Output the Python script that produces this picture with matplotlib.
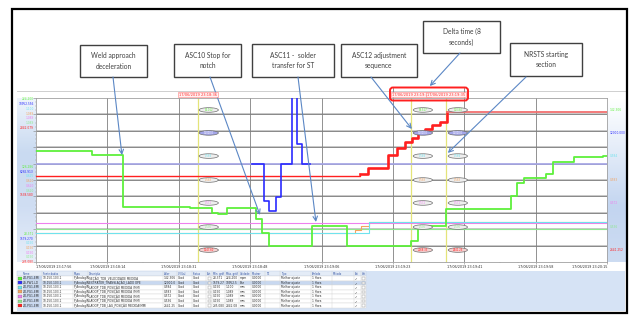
import numpy as np
import matplotlib.pyplot as plt
from matplotlib.patches import Rectangle, Ellipse, FancyBboxPatch
from matplotlib.colors import LinearSegmentedColormap
import matplotlib.transforms as mtransforms

W, H = 629, 316

# x axis: grid divisions of ~17.4 s, y axis: 10 divisions
tick_labels = ["17/06/2019 23:17:56", "17/06/2019 23:18:14", "17/06/2019 23:18:31",
               "17/06/2019 23:18:48", "17/06/2019 23:19:06", "17/06/2019 23:19:23",
               "17/06/2019 23:19:41", "17/06/2019 23:19:58", "17/06/2019 23:20:15"]

# speed trace (green, thick)
speed_x = [0, 0.784, 1.218, 2.157, 2.465, 2.549, 2.675, 3.081, 3.165, 3.263, 3.866, 4.356,
           5.252, 5.350, 5.742, 6.653, 6.737, 6.835, 7.143, 7.241, 7.535, 7.941, 8.0]
speed_y = [6.77, 6.52, 3.35, 3.29, 2.99, 2.93, 3.29, 2.62, 1.77, 0.98, 2.20, 0.98,
           1.28, 2.20, 3.23, 4.02, 4.82, 5.12, 5.37, 6.10, 6.40, 6.46, 6.46]

# extractor translation (blue)
ext_x = [3.025, 3.193, 3.263, 3.361, 3.431, 3.585, 3.655, 3.725, 3.838]
ext_y = [5.98, 3.72, 3.11, 3.96, 5.98, 10.6, 7.20, 5.98, 5.98]

# lag position (red)
lag_x = [0, 4.538, 4.650, 4.930, 5.056, 5.168, 5.266, 5.350, 5.448, 5.546, 5.658, 5.756, 8.0]
lag_y = [5.24, 5.37, 5.73, 6.52, 6.95, 7.32, 7.56, 7.87, 8.11, 8.35, 8.54, 9.15, 9.15]

# position traces (thin)
orange_x = [0, 4.468, 4.552, 4.664, 8.0]
orange_y = [1.77, 1.95, 2.20, 2.44, 2.44]
cyan_x = [0, 4.664, 8.0]
cyan_y = [1.77, 2.44, 2.44]
magenta_x = [0, 8.0]
magenta_y = [2.38, 2.38]
green2_x = [0, 8.0]
green2_y = [2.0, 2.0]
lavender_x = [0, 8.0]
lavender_y = [5.98, 5.98]

trace_colors = ["#5ef03c", "#2b2bff", "#6fe3ee", "#f4a460", "#ee80ee", "#8fe88f", "#ff2020"]

# cursors
cursor_x = [2.269, 5.252, 5.742]
cursor_times = ["17/06/2019 23:18:36", "17/06/2019 23:19:26", "17/06/2019 23:19:35"]
ellipse_x = [2.42, 5.42, 5.91]
ellipse_y = [9.27, 7.87, 6.46, 5.0, 3.6, 2.13, 0.73]
cursor_values = [["94.012", "12000.0", "0.584", "0.583", "0.572", "0.536", "1247.60"],
                 ["89.517", "12000.0", "0.584", "0.583", "0.572", "0.536", "2168.33"],
                 ["110.84", "12000.0", "0.584", "0.583", "0.572", "0.536", "2641.25"]]

# scale labels
max_labels = ["224.200", "10952.556", "1.100", "1.089", "1.089", "1.089", "2842.079"]
mid_labels = ["126.286", "6265.913", "0.625", "0.620", "0.620", "0.620", "1538.580"]
min_labels = ["28.371", "1579.270", "0.150", "0.150", "0.150", "0.150", "235.080"]
right_labels = ["142.306", "12000.000", "0.584", "0.583", "0.572", "0.536", "2641.252"]

# table
headers = ["Nome", "Fonte dados", "Mapa", "Descrição", "Valor", "Vl Ual", "Status", "Aut",
           "Mín. gráf", "Máx. gráf", "Unidade", "Mostrar", "TZ", "Tipo", "Período",
           "Método", "Exi", "Vet"]
col_x = [22, 42, 73, 88, 163, 177, 192, 206, 212, 225, 239, 251, 265, 280, 311, 332, 354, 361]
names = ["ZD-PG1-EMI", "ZS-PW1-LD", "ZD-PG1-EMI", "ZD-PG1-EMI", "ZD-PG1-EMI", "ZD-PG1-EMI", "ZD-PG1-EMI"]
descs = ["SEÇÃO_TDB_VELOCIDADE MEDIDA", "EXTRATOR_TRANSLAÇÃO_LADO OPE",
         "LADOP_TDB_POSIÇÃO MEDIDA (MM)", "LADOP_TDB_POSIÇÃO MEDIDA (MM)",
         "LADOP_TDB_POSIÇÃO MEDIDA (MM)", "LADOP_TDB_POSIÇÃO MEDIDA (MM)",
         "LADOP_TDB_LAG_POSIÇÃO MEDIDA(MM)"]
valores = ["142.306", "12000.0", "0.584", "0.583", "0.572", "0.536", "2641.25"]
mins = ["28.371", "1579.27", "0.150", "0.150", "0.150", "0.150", "235.080"]
maxs = ["224.200", "10952.5", "1.100", "1.089", "1.089", "1.089", "2842.08"]
units = ["mpm", "Bar", "mm", "mm", "mm", "mm", "mm"]

fig = plt.figure(figsize=(W / 100, H / 100), dpi=100)

# background overlay in pixel coordinates
ov = fig.add_axes([0, 0, 1, 1], zorder=0)
ov.axis('off')

left_cmap = LinearSegmentedColormap.from_list('l', ['#eef4fb', '#c9daf1', '#d0def3', '#e6eef9'])
right_cmap = LinearSegmentedColormap.from_list('r', ['#ffffff', '#e2ebf8', '#c3d5f0', '#cddcf2'])
grad = np.linspace(0, 1, 100)[:, None]
ov.imshow(grad, extent=(17, 36, 262, 98), cmap=left_cmap, aspect='auto')
ov.imshow(grad, extent=(607, 626, 262, 98), cmap=right_cmap, aspect='auto')
ov.set_xlim(0, W)
ov.set_ylim(H, 0)

ov.plot([17, 626], [91, 91], color='#c8c8c8', lw=0.6)
ov.plot([626, 626], [91, 271], color='#c8c8c8', lw=0.6)
ov.add_patch(Rectangle((12, 9), 615, 304, fill=False, ec='black', lw=1.6, zorder=10))

# annotation boxes
boxes = [((80, 45, 67, 32), "Weld approach\ndeceleration"),
         ((174, 44, 67, 33), "ASC10 Stop for\nnotch"),
         ((252, 44, 82, 33), "ASC11 -  solder\ntransfer for ST"),
         ((341, 44, 76, 33), "ASC12 adjustment\nsequence"),
         ((423, 21, 77, 32), "Delta time (8\nseconds)"),
         ((510, 43, 72, 33), "NRSTS starting\nsection")]
for (bx, by, bw, bh), txt in boxes:
    ov.add_patch(Rectangle((bx, by), bw, bh, fc='white', ec='#404040', lw=1.0))
    ov.text(bx + bw / 2, by + bh / 2, txt, ha='center', va='center', fontsize=4.8,
            family='Lato', color='#404040', linespacing=1.6)

# table
ov.add_patch(Rectangle((17, 271), 608, 40, fc='#d6e3f5', ec='none'))
ov.add_patch(Rectangle((17, 271), 349, 5, fc='#e4ecf7', ec='#b8c8e0', lw=0.3))
for j, h in enumerate(headers):
    ov.text(col_x[j] + 0.8, 273.6, h, fontsize=1.8, color='#3050a0', va='center')
row_h = 4.55
for i in range(7):
    ry = 276 + i * row_h
    fc = '#c8d8f0' if i == 1 else 'white'
    ov.add_patch(Rectangle((17, ry), 349, row_h, fc=fc, ec='#d8d8d8', lw=0.3))
    ov.add_patch(Rectangle((18, ry + 0.8), 4, row_h - 1.6, fc=trace_colors[i], ec='#606060', lw=0.2))
    ov.add_patch(Rectangle((23, ry), 19, row_h, fc='#c8d8f0', ec='none'))
    cells = [names[i], "10.150.103.1", "P_AnalogIN", descs[i], valores[i], "Good", "Good", "",
             mins[i], maxs[i], units[i], "0.0000", "", "Melhor ajuste", "1 Hora", "", "✓", ""]
    for j, c in enumerate(cells):
        if c:
            ov.text(col_x[j] + 0.8, ry + row_h / 2, c, fontsize=2.1, color='#303030', va='center')
    ov.add_patch(Rectangle((207.5, ry + 1), 3, 2.6, fc='white', ec='#909090', lw=0.3))
    ov.add_patch(Rectangle((362, ry + 1), 3, 2.6, fc='white', ec='#909090', lw=0.3))
for xc in col_x[1:]:
    ov.plot([xc, xc], [271, 276 + 7 * row_h], color='#d0d0d0', lw=0.3)

# main chart
ax = fig.add_axes([36 / W, 1 - 262 / H, 571 / W, 164 / H], zorder=1)
ax.set_xlim(0, 8)
ax.set_ylim(0, 10)
for s in ax.spines.values():
    s.set_color('#a0a0a0')
    s.set_linewidth(0.6)

for k in range(1, 10):
    ax.axhline(k, color='#c8c8c8', lw=1.4, zorder=1)
    ax.axhline(k, color='#808080', lw=0.6, zorder=1)
for k in range(1, 8):
    ax.axvline(k, color='#808080', lw=0.6, zorder=1)
for k in (5, 6):
    ax.plot([k, k], [10, 10.6], color='#808080', lw=0.6, clip_on=False)

for cx in cursor_x:
    ax.axvline(cx, color='#e4e47a', lw=0.9, zorder=2)

ax.plot(lavender_x, lavender_y, color='#aaaaf2', lw=1.1, zorder=3)
ax.plot(magenta_x, magenta_y, color=trace_colors[4], lw=0.8, zorder=3)
ax.plot(green2_x, green2_y, color=trace_colors[5], lw=0.8, zorder=3)
ax.step(orange_x, orange_y, where='post', color=trace_colors[3], lw=0.8, zorder=3)
ax.step(cyan_x, cyan_y, where='post', color=trace_colors[2], lw=0.8, zorder=3)
ax.step(lag_x[:2], lag_y[:2], where='post', color=trace_colors[6], lw=1.0, zorder=4)
ax.step(lag_x[1:12], lag_y[1:12], where='post', color=trace_colors[6], lw=1.9, zorder=4)
ax.step(lag_x[11:], lag_y[11:], where='post', color='#f27070', lw=1.3, zorder=4)
ax.step(ext_x, ext_y, where='post', color=trace_colors[1], lw=1.2, zorder=4)
ax.step(speed_x, speed_y, where='post', color=trace_colors[0], lw=1.3, zorder=5)

# cursor value ellipses
for ex, vals in zip(ellipse_x, cursor_values):
    for k, (ey, v) in enumerate(zip(ellipse_y, vals)):
        fc = '#a4a6ea' if k == 1 else ('#f6d0d0' if k == 6 else '#eeeeee')
        ax.add_patch(Ellipse((ex, ey), 0.27, 0.28, fc=fc, ec='#707070', lw=0.5, zorder=6))
        tc = 'white' if k == 1 else trace_colors[k]
        ax.text(ex, ey, v, fontsize=1.8, color=tc, ha='center', va='center', zorder=7)

# ticks
ax.set_xticks(range(9))
ax.set_xticklabels(tick_labels, fontsize=2.4, color='#303030')
xl = ax.get_xticklabels()
xl[0].set_ha('left')
xl[-1].set_ha('right')
ax.tick_params(axis='x', length=1.5, pad=1, width=0.4, color='#808080')
ax.set_xticks(np.arange(0, 8.01, 0.25), minor=True)
ax.tick_params(axis='x', which='minor', length=1, width=0.3, color='#909090')
ax.set_yticks(range(11))
ax.set_yticklabels([])
ax.set_yticks(np.arange(0, 10.01, 0.25), minor=True)
ax.tick_params(axis='y', length=2, width=0.4, color='#808080', pad=0)
ax.tick_params(axis='y', which='minor', length=1, width=0.3, color='#909090')

# scale labels left / right
tl = mtransforms.blended_transform_factory(ax.transAxes, ax.transData)
for g, (start, labs) in enumerate([(9.91, max_labels), (5.79, mid_labels), (1.71, min_labels)]):
    for k, lab in enumerate(labs):
        ax.text(-0.004, start - k * 0.287, lab, transform=tl, fontsize=2.1,
                color=trace_colors[k], ha='right', va='center')
for k, lab in enumerate(right_labels):
    ax.text(1.004, ellipse_y[k], lab, transform=tl, fontsize=2.1,
            color=trace_colors[k], ha='left', va='center')

# arrows pointing to the chart
arrows = [((113, 77), (1.204, 6.52)), ((210, 77), (3.137, 2.87)), ((298, 77), (3.922, 2.44)),
          ((371, 77), (5.266, 8.11)), ((460, 53), (5.518, 10.73)), ((526, 77), (5.770, 6.65))]
for start, tip in arrows:
    ax.annotate('', xy=tip, xycoords='data', xytext=start, textcoords=ov.transData,
                annotation_clip=False,
                arrowprops=dict(arrowstyle='->', color='#5b87c5', lw=0.8,
                                mutation_scale=8, shrinkA=0, shrinkB=0), zorder=8)

# cursor time labels on top
top = fig.add_axes([0, 0, 1, 1], zorder=2)
top.set_xlim(0, W)
top.set_ylim(H, 0)
top.axis('off')
tx = mtransforms.blended_transform_factory(ax.transData, top.transData)
top.add_patch(FancyBboxPatch((390, 87.5), 78, 13, boxstyle='round,pad=0,rounding_size=3',
                             fc='none', ec='#ff2020', lw=1.4))
for cx, ct in zip(cursor_x, cursor_times):
    top.text(cx, 94.5, ct, transform=tx, fontsize=2.6, color='#ff3030', ha='center', va='center',
             bbox=dict(boxstyle='square,pad=0.25', fc='#fff0f0', ec='#ff8080', lw=0.4))

fig.savefig('out.png', dpi=100)
